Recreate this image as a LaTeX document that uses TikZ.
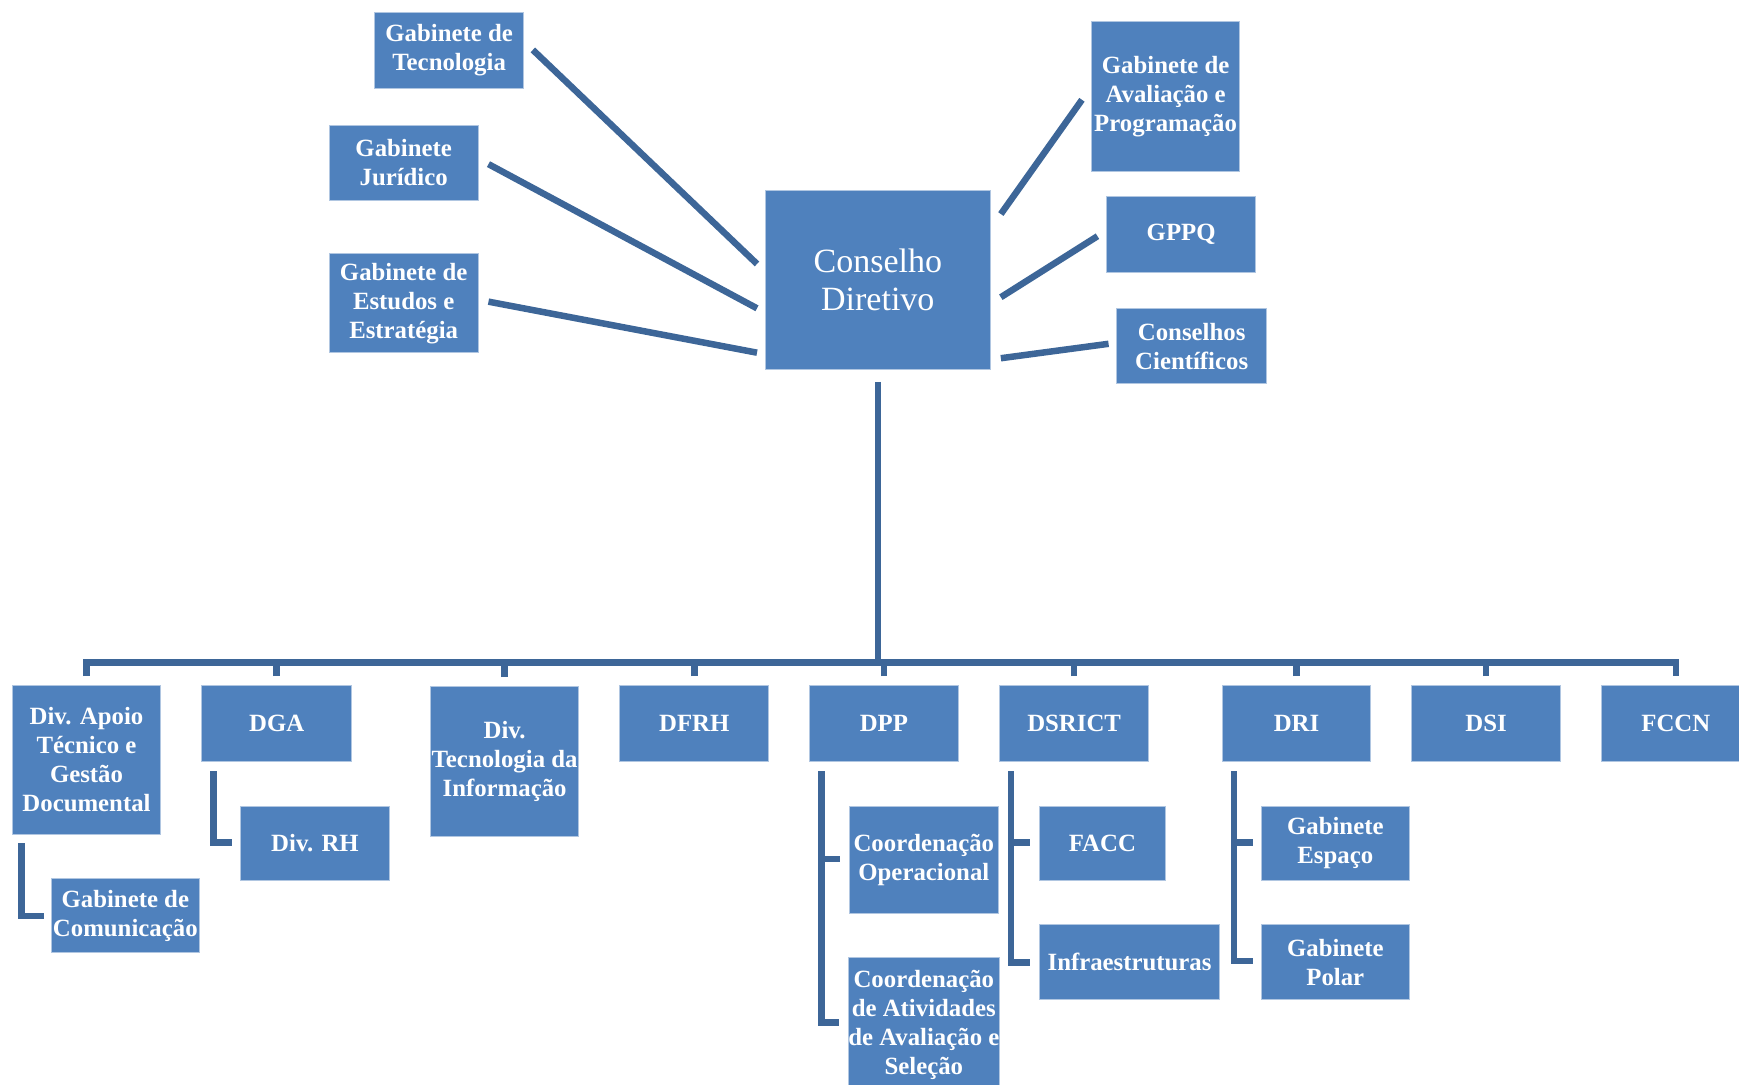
\documentclass[tikz,border=0pt]{standalone}
\usepackage{fontspec}
\setmainfont{Liberation Serif}
\usetikzlibrary{calc}
\definecolor{boxblue}{HTML}{4F81BD}
\definecolor{linkblue}{HTML}{3D6698}
\begin{document}
\begin{tikzpicture}[x=1.109pt,y=-1.109pt,
  unit/.style={draw=white!55!boxblue, line width=1pt, fill=boxblue, text=white,
    font=\bfseries\fontsize{24.8}{29}\selectfont, align=center, inner sep=0pt,
    minimum width=148.6pt, minimum height=75.4pt},
  link/.style={draw=linkblue, line width=6.5pt, line join=miter}]
\useasboundingbox (0,0) rectangle (1568,978);
\fill[white] (0,0) rectangle (1568,978);
\clip (0,0) rectangle (1568,978);
% top level
\node[unit, minimum height=76.5pt] (GT) at (405,45.5) {Gabinete de\\Tecnologia};
\node[unit] (GJ) at (364,147) {Gabinete\\Jurídico};
\node[unit, minimum height=98.7pt] (GE) at (364,273.5) {Gabinete de\\Estudos e\\Estratégia};
\node[unit, minimum width=225.1pt, minimum height=178.5pt, font=\fontsize{34}{38}\selectfont] (CD) at (791.5,252.5) {Conselho\\Diretivo};
\node[unit, minimum height=150.8pt] (GAP) at (1051,87) {Gabinete de\\Avaliação e\\Programação};
\node[unit, minimum height=76.5pt] (GPPQ) at (1065,211.5) {GPPQ};
\node[unit, minimum width=149.7pt] (CC) at (1074.5,312) {Conselhos\\Científicos};
% second row
\node[unit, minimum height=148.6pt] (DA) at (78,685) {Div. Apoio\\Técnico e\\Gestão\\Documental};
\node[unit, minimum width=149.7pt, minimum height=76.5pt] (DGA) at (249.5,652.5) {DGA};
\node[unit, minimum height=149.7pt] (DTI) at (455,686.5) {Div.\\Tecnologia da\\Informação};
\node[unit, minimum height=76.5pt] (DFRH) at (626,652.5) {DFRH};
\node[unit, minimum height=76.5pt] (DPP) at (797,652.5) {DPP};
\node[unit, minimum width=149.7pt, minimum height=76.5pt] (DSRICT) at (968.5,652.5) {DSRICT};
\node[unit, minimum height=76.5pt] (DRI) at (1169,652.5) {DRI};
\node[unit, minimum height=76.5pt] (DSI) at (1340,652.5) {DSI};
\node[unit, minimum height=76.5pt] (FCCN) at (1511,652.5) {FCCN};
% third level
\node[unit, minimum height=74.3pt] (GC) at (113,825.5) {Gabinete de\\Comunicação};
\node[unit, minimum height=74.3pt] (RH) at (284,760.5) {Div. RH};
\node[unit, minimum height=107.6pt] (CO) at (833,775.5) {Coordenação\\Operacional};
\node[unit, minimum height=135.3pt] (CA) at (833,924) {Coordenação\\de Atividades\\de Avaliação e\\Seleção};
\node[unit, minimum width=126.4pt, minimum height=74.3pt] (FACC) at (994,760.5) {FACC};
\node[unit, minimum width=180.8pt, minimum height=74.3pt] (INF) at (1018.5,867.5) {Infraestruturas};
\node[unit, minimum height=74.3pt] (GES) at (1204,760.5) {Gabinete\\Espaço};
\node[unit, minimum height=74.3pt] (GPO) at (1204,867.5) {Gabinete\\Polar};
% connectors to the board
\draw[link] ($(GT.east)+(8,-0.5)$) -- ($(CD.west)+(-7,-14.5)$);
\draw[link] ($(GJ.east)+(9,1)$) -- ($(CD.west)+(-7,25.5)$);
\draw[link] ($(GE.east)+(9,-1.5)$) -- ($(CD.west)+(-7,65.5)$);
\draw[link] ($(CD.east)+(9,-59.5)$) -- ($(GAP.west)+(-8,3)$);
\draw[link] ($(CD.east)+(9,15.5)$) -- ($(GPPQ.west)+(-8,1.5)$);
\draw[link] ($(CD.east)+(9,70.5)$) -- ($(CC.west)+(-7,-2)$);
% bus
\coordinate (busL) at ($(DA.north)+(0,-20)$);
\draw[link] ($(CD.south)+(0,11)$) -- (CD.south |- busL);
\draw[link] ($(DA.north)+(0,-8)$) |- ($(FCCN.north)+(0,-20)$) -- ($(FCCN.north)+(0,-8)$);
\foreach \n in {DGA,DTI,DFRH,DPP,DSRICT,DRI,DSI}
  \draw[link] ($(\n.north)+(0,-8)$) -- ++(0,-12);
% sub connectors
\draw[link] ($(DA.south west)+(9,8)$) |- ($(GC.west)+(-6,0.5)$);
\draw[link] ($(DGA.south west)+(11,8)$) |- ($(RH.west)+(-7,-1)$);
\coordinate (dppv) at ($(DPP.south west)+(11,8)$);
\draw[link] (dppv) |- ($(CA.west)+(-8,-2)$);
\draw[link] ($(dppv |- CO.west)+(0,-1)$) -- ($(CO.west)+(-8,-1)$);
\coordinate (dsv) at ($(DSRICT.south west)+(11,8)$);
\draw[link] (dsv) |- ($(INF.west)+(-8,0.5)$);
\draw[link] ($(dsv |- FACC.west)+(0,-1)$) -- ($(FACC.west)+(-8,-1)$);
\coordinate (driv) at ($(DRI.south west)+(11,8)$);
\draw[link] (driv) |- ($(GPO.west)+(-6.5,-1)$);
\draw[link] ($(driv |- GES.west)+(0,-1)$) -- ($(GES.west)+(-6.5,-1)$);
\end{tikzpicture}
\end{document}
